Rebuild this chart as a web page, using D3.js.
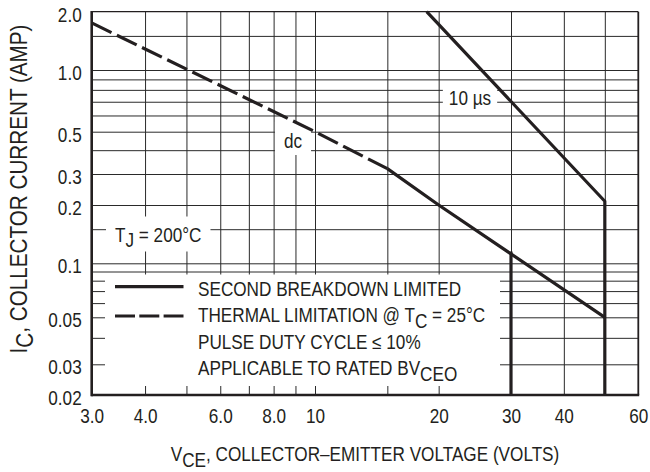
<!DOCTYPE html>
<html>
<head>
<meta charset="utf-8">
<script src="https://cdn.jsdelivr.net/npm/d3@7"></script>
<style>
  html, body { margin: 0; padding: 0; background: #fff; }
  svg { display: block; }
  text { font-family: "Liberation Sans", Arial, sans-serif; fill: #231f20; }
</style>
</head>
<body>
<svg id="chart" width="650" height="472"></svg>
<script>
// ---------- data ----------
const xTickValues = [3, 4, 6, 8, 10, 20, 30, 40, 60];
const xTickLabels = ["3.0", "4.0", "6.0", "8.0", "10", "20", "30", "40", "60"];
const xGridValues = [4, 5, 6, 7, 8, 9, 10, 15, 20, 30, 40, 50];
const yTickValues = [2, 1, 0.5, 0.3, 0.2, 0.1, 0.05, 0.03, 0.02];
const yTickLabels = ["2.0", "1.0", "0.5", "0.3", "0.2", "0.1", "0.05", "0.03", "0.02"];
const yGridValues = [1.5, 1, 0.9, 0.8, 0.7, 0.6, 0.5, 0.4, 0.3, 0.2, 0.15, 0.1, 0.09, 0.08, 0.07, 0.06, 0.05, 0.04, 0.03];

// dc curve: thermal limitation (dashed), then second breakdown (solid)
const dcThermalV = [3, 10, 15];
const dcThermalI = [1.75, 0.5, 0.32];
const dcSecondV = [15, 20, 50];
const dcSecondI = [0.32, 0.2, 0.05];
const dcLimitV = [30, 30];
const dcLimitI = [0.115, 0.02];
// 10 us pulse curve
const pulseV = [18.7, 50, 50];
const pulseI = [2.0, 0.21, 0.02];

const legendLabels = ["SECOND BREAKDOWN LIMITED", "THERMAL LIMITATION @ T|C| = 25°C", "PULSE DUTY CYCLE ≤ 10%", "APPLICABLE TO RATED BV|CEO"];

// ---------- layout ----------
const SX = 0.88;           // horizontal condensing of the font
const FS = 19.5;           // base font size
const ink = "#231f20";
const L = 91.7, R = 638.3, T = 11.7, B = 395;

const svg = d3.select("#chart");
svg.append("rect").attr("width", 650).attr("height", 472).attr("fill", "#fff");

const x = d3.scaleLog().domain([3, 10, 30, 60]).range([L, 315, 511, R]);
const y = d3.scaleLog()
  .domain([0.02, 0.03, 0.05, 0.1, 0.2, 0.3, 0.5, 1, 2])
  .range([B, 364.3, 317.3, 263.3, 205, 174, 131.7, 70, T]);

// ---------- grid ----------
const gridY = svg.append("g").attr("transform", `translate(${L},0)`)
  .call(d3.axisLeft(y).tickValues(yGridValues).tickSize(-(R - L)).tickFormat(""));
const gridX = svg.append("g").attr("transform", `translate(0,${B})`)
  .call(d3.axisBottom(x).tickValues(xGridValues).tickSize(-(B - T)).tickFormat(""));
[gridY, gridX].forEach(g => {
  g.select(".domain").remove();
  g.selectAll("line").attr("stroke", "#2a2a2a").attr("stroke-width", 1);
});

// ---------- helper for condensed text ----------
function addText(parent, tx, ty, str, opts = {}) {
  const g = parent.append("g")
    .attr("transform", `translate(${tx},${ty}) ${opts.rotate ? "rotate(" + opts.rotate + ")" : ""} scale(${opts.sx || SX},1)`);
  const t = g.append("text")
    .attr("font-size", opts.size || FS)
    .attr("text-anchor", opts.anchor || "start");
  // segments separated by | alternate normal / subscript
  str.split("|").forEach((seg, i) => {
    if (!seg) return;
    t.append("tspan")
      .attr("dy", i === 0 ? 0 : (i % 2 === 1 ? (opts.sub || 5.5) : -(opts.sub || 5.5)))
      .text(seg);
  });
  return t;
}

// white label boxes sized from their text
function labelBox(tx, ty, str, anchor, padX, padTop, padBot) {
  const layer = svg.append("g");
  const rect = layer.append("rect").attr("fill", "#fff");
  const t = addText(layer, tx, ty, str, { anchor });
  const bb = t.node().getBBox();
  const x0 = tx + bb.x * SX, w = bb.width * SX;
  rect.attr("x", x0 - padX).attr("y", ty - 14 - padTop)
      .attr("width", w + 2 * padX).attr("height", 14 + padTop + padBot);
}

labelBox(115, 241.5, "T|J| = 200°C", "start", 9, 11, 10);
labelBox(293, 148, "dc", "middle", 9, 12, 7);
labelBox(470, 105, "10 µs", "middle", 6, 9, 7);

// legend box
const legend = svg.append("g");
legend.append("rect").attr("x", 105).attr("y", 274.5).attr("width", 395).attr("height", 111.5).attr("fill", "#fff");

// ---------- frame ----------
const frame = svg.append("g").attr("stroke", ink).attr("fill", "none");
frame.append("line").attr("x1", L).attr("x2", R).attr("y1", T).attr("y2", T).attr("stroke-width", 1.2);
frame.append("line").attr("x1", R).attr("x2", R).attr("y1", T).attr("y2", B).attr("stroke-width", 1.8);
frame.append("line").attr("x1", L - 0.5).attr("x2", R + 0.9).attr("y1", B).attr("y2", B).attr("stroke-width", 2.4);
frame.append("line").attr("x1", L).attr("x2", L).attr("y1", T - 0.6).attr("y2", B + 1.2).attr("stroke-width", 2.6);

// ---------- curves ----------
const line = d3.line().x(d => x(d[0])).y(d => y(d[1]));
const zip = (a, b) => a.map((v, i) => [v, b[i]]);
const curves = svg.append("g").attr("fill", "none").attr("stroke", ink).attr("stroke-width", 3.2);
curves.append("path").attr("d", line(zip(dcThermalV, dcThermalI))).attr("stroke-dasharray", "22,6");
curves.append("path").attr("d", line(zip(dcSecondV, dcSecondI))).attr("stroke-linejoin", "round");
curves.append("path").attr("d", line(zip(dcLimitV, dcLimitI)));
curves.append("path").attr("d", line(zip(pulseV, pulseI))).attr("stroke-linejoin", "miter");

// ---------- axes labels ----------
const xAx = svg.append("g").attr("transform", `translate(0,${B})`)
  .call(d3.axisBottom(x).tickValues(xTickValues).tickSize(0).tickFormat((d, i) => xTickLabels[i]));
xAx.select(".domain").remove();
xAx.selectAll("text").attr("y", null).attr("dy", null)
  .attr("font-size", FS).attr("font-family", null).attr("fill", ink)
  .attr("transform", `translate(0,28) scale(${SX},1)`);

const yAx = svg.append("g").attr("transform", `translate(${L},0)`)
  .call(d3.axisLeft(y).tickValues(yTickValues).tickSize(0).tickFormat((d, i) => yTickLabels[i]));
yAx.select(".domain").remove();
yAx.selectAll("text").attr("x", null).attr("dy", null)
  .attr("font-size", FS).attr("font-family", null).attr("fill", ink)
  .attr("transform", `translate(-10,9.5) scale(${SX},1)`);

// axis titles
addText(svg, 365, 461, "V|CE|, COLLECTOR–EMITTER VOLTAGE (VOLTS)", { anchor: "middle" });
addText(svg, 27, 189, "I|C|, COLLECTOR CURRENT (AMP)", { anchor: "middle", rotate: -90, size: 23.5, sub: 6 });

// ---------- legend ----------
const legY = [296, 322, 348.5, 375];
legendLabels.forEach((s, i) => addText(legend, 198, legY[i], s));
legend.append("line").attr("x1", 115).attr("x2", 183.5).attr("y1", 286.7).attr("y2", 286.7)
  .attr("stroke", ink).attr("stroke-width", 3.2);
legend.append("line").attr("x1", 115).attr("x2", 183.5).attr("y1", 316).attr("y2", 316)
  .attr("stroke", ink).attr("stroke-width", 3.2).attr("stroke-dasharray", "20,4.3");
</script>
</body>
</html>
